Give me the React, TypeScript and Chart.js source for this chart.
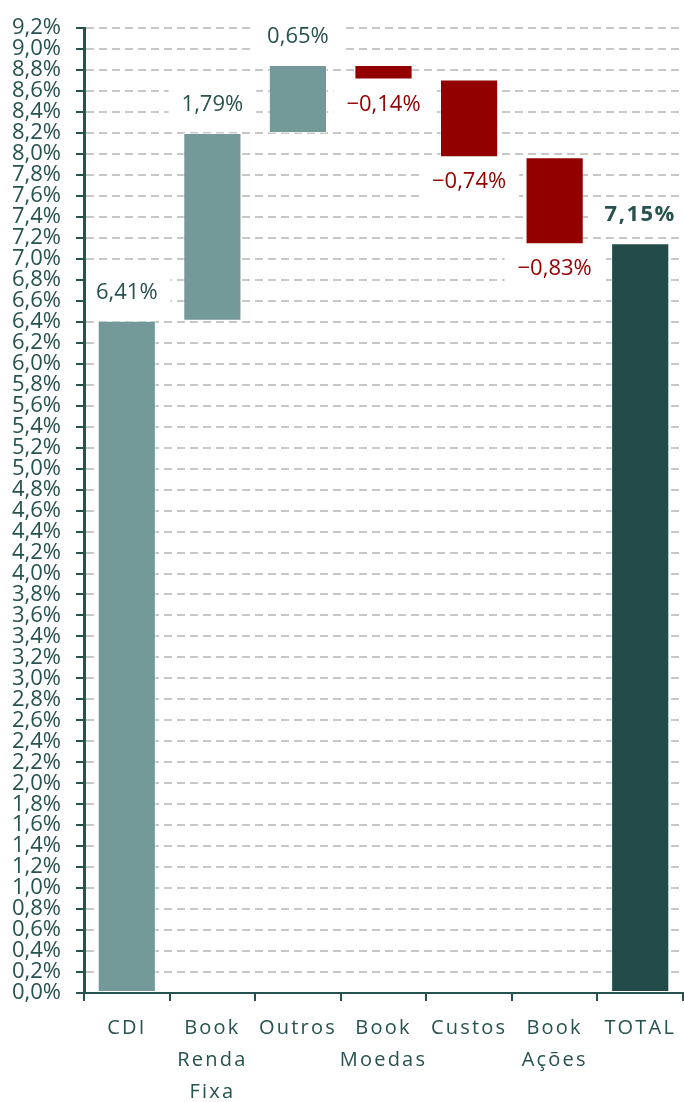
import React, { useEffect, useRef } from "react";
import { Chart, registerables } from "chart.js";

Chart.register(...registerables);

// ---- data ----
const categories: string[][] = [
  ["CDI"],
  ["Book", "Renda", "Fixa"],
  ["Outros"],
  ["Book", "Moedas"],
  ["Custos"],
  ["Book", "Ações"],
  ["TOTAL"],
];
const stepValues = [6.41, 1.79, 0.65, -0.14, -0.74, -0.83];
const totalValue = 7.15;

const Y_MIN = 0;
const Y_MAX = 9.2;
const Y_STEP = 0.2;

// ---- styles ----
const FONT = '"Open Sans", "DejaVu Sans", sans-serif';
const TEXT = "#26524f";
const NEG_TEXT = "#930000";
const COLOR_POS = "#739a98";
const COLOR_NEG = "#920000";
const COLOR_TOTAL = "#234b4a";
const GRID = "#c8c8c8";

// waterfall table built from the arrays above
const ranges: [number, number][] = [];
{
  let acc = 0;
  for (const d of stepValues) {
    const next = Math.round((acc + d) * 100) / 100;
    ranges.push([acc, next]);
    acc = next;
  }
  ranges.push([0, totalValue]);
}
const labelValues = [...stepValues, totalValue];
const barColors = labelValues.map((v, i) =>
  i === labelValues.length - 1 ? COLOR_TOTAL : v >= 0 ? COLOR_POS : COLOR_NEG
);

const fmt = (v: number) =>
  (v < 0 ? "\u2212" : "") + Math.abs(v).toFixed(2).replace(".", ",") + "%";

function labelSpots(chart: any) {
  const meta = chart.getDatasetMeta(0);
  const ctx = chart.ctx;
  return meta.data.map((el: any, i: number) => {
    const v = labelValues[i];
    const { x, y, base } = el.getProps(["x", "y", "base"], true);
    const top = Math.min(y, base);
    const bottom = Math.max(y, base);
    const isTotal = i === labelValues.length - 1;
    const cy = v >= 0 ? top - 28 : bottom + 25;
    const font = (isTotal ? "bold " : "") + "22px " + FONT;
    ctx.save();
    ctx.font = font;
    ctx.letterSpacing = isTotal ? "1.5px" : "0px";
    const w = ctx.measureText(fmt(v)).width;
    ctx.restore();
    return { x, cy, w, font, text: fmt(v), color: v < 0 ? NEG_TEXT : TEXT, isTotal };
  });
}

const waterfallLabels = {
  id: "waterfallLabels",
  afterLayout(chart: any) {
    const xs = chart.scales.x;
    if (xs && !xs._lsPatched) {
      const orig = xs.drawLabels.bind(xs);
      xs.drawLabels = (area: any) => {
        const c = xs.ctx;
        const prev = c.letterSpacing;
        c.letterSpacing = "2.2px";
        orig(area);
        c.letterSpacing = prev;
      };
      xs._lsPatched = true;
    }
  },
  beforeDatasetsDraw(chart: any) {
    const ctx = chart.ctx;
    const a = chart.chartArea;
    ctx.save();
    ctx.beginPath();
    ctx.rect(a.left + 2, a.top - 30, a.right - a.left - 2, a.bottom - a.top + 28);
    ctx.clip();
    ctx.fillStyle = "#ffffff";
    for (const s of labelSpots(chart)) {
      ctx.fillRect(s.x - s.w / 2 - 13, s.cy - 18, s.w + 26, 36);
    }
    ctx.restore();
  },
  afterDatasetsDraw(chart: any) {
    const ctx = chart.ctx;
    for (const s of labelSpots(chart)) {
      ctx.save();
      ctx.font = s.font;
      ctx.letterSpacing = s.isTotal ? "1.5px" : "0px";
      ctx.fillStyle = s.color;
      ctx.textAlign = "center";
      ctx.textBaseline = "middle";
      ctx.fillText(s.text, s.x, s.cy);
      ctx.restore();
    }
  },
};

export default function App() {
  const ref = useRef<HTMLCanvasElement | null>(null);

  useEffect(() => {
    if (!ref.current) return;
    const chart = new Chart(ref.current, {
      type: "bar",
      data: {
        labels: categories,
        datasets: [
          {
            data: ranges as any,
            backgroundColor: barColors,
            borderColor: "rgba(255,255,255,0.55)",
            borderWidth: 1,
            borderSkipped: false,
            barPercentage: 0.85,
            categoryPercentage: 0.8,
          },
        ],
      },
      options: {
        responsive: false,
        animation: false,
        devicePixelRatio: 1,
        layout: { padding: { top: 25, right: 1, left: 0, bottom: 0 } },
        plugins: {
          legend: { display: false },
          tooltip: { enabled: false },
        },
        scales: {
          x: {
            grid: {
              display: true,
              drawOnChartArea: false,
              drawTicks: true,
              tickLength: 8,
              color: TEXT,
              lineWidth: 2,
              offset: true,
            },
            border: { color: TEXT, width: 2 },
            ticks: {
              color: TEXT,
              font: { family: FONT, size: 20, lineHeight: 1.6 },
              padding: 11,
              maxRotation: 0,
              minRotation: 0,
              autoSkip: false,
            },
            afterFit: (s: any) => {
              s.height = 109;
            },
          },
          y: {
            min: Y_MIN,
            max: Y_MAX,
            grid: {
              color: GRID,
              lineWidth: 2,
              tickLength: 8,
              tickColor: TEXT,
              tickWidth: 2,
              tickBorderDash: [],
            },
            border: { color: TEXT, width: 3, dash: [8, 5] },
            ticks: {
              stepSize: Y_STEP,
              autoSkip: false,
              color: TEXT,
              padding: 15,
              font: { family: FONT, size: 22 },
              callback: (v: any) => Number(v).toFixed(1).replace(".", ",") + "%",
            },
            afterFit: (s: any) => {
              s.width = 84;
            },
          },
        },
      },
      plugins: [waterfallLabels],
    });
    return () => chart.destroy();
  }, []);

  return (
    <div style={{ position: "absolute", left: 0, top: 0, width: 684, height: 1102 }}>
      <canvas ref={ref} width={684} height={1102} style={{ display: "block" }} />
    </div>
  );
}
